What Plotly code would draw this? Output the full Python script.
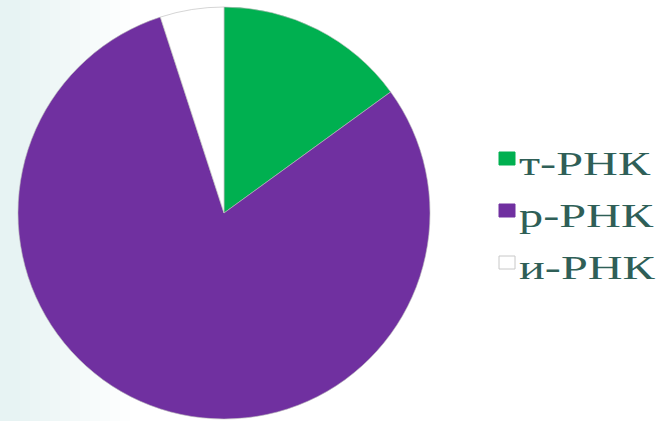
import plotly.graph_objects as go

labels = ["т-РНК", "р-РНК", "и-РНК"]
values = [15, 80, 5]
colors = ["#00b050", "#7030a0", "#ffffff"]

W, H = 666, 421

fig = go.Figure()
fig.add_trace(go.Pie(
    labels=labels,
    values=values,
    sort=False,
    direction="clockwise",
    rotation=0,
    textinfo="none",
    hoverinfo="label+percent",
    marker=dict(colors=colors, line=dict(color="#b8b8b8", width=0.6)),
    domain=dict(x=[18 / W, 430 / W], y=[(H - 419) / H, (H - 7) / H]),
    showlegend=False,
))

shapes = []
# soft bluish gradient on the left edge of the background
for i in range(12):
    x1 = (130 - i * 10) / W
    shapes.append(dict(type="rect", xref="paper", yref="paper", x0=0, x1=x1, y0=0, y1=1,
                       fillcolor="#dce8ec", opacity=0.045, line=dict(width=0), layer="below"))

annotations = []
# manual legend
row_mid = [163.5, 215.5, 267.5]
for lab, col, ym in zip(labels, colors, row_mid):
    shapes.append(dict(type="rect", xref="paper", yref="paper",
                       x0=499 / W, x1=515 / W,
                       y0=(H - (ym + 1.5)) / H, y1=(H - (ym - 11.5)) / H,
                       fillcolor=col,
                       line=dict(color="#c8c8c8" if col == "#ffffff" else col, width=1)))
    annotations.append(dict(xref="paper", yref="paper", x=517 / W, y=(H - ym) / H,
                            xanchor="left", yanchor="middle", showarrow=False,
                            text=lab,
                            font=dict(family="Liberation Serif, Times New Roman, DejaVu Serif, serif",
                                      size=34, color="#2f5f57")))

fig.update_layout(
    width=W, height=H,
    margin=dict(l=0, r=0, t=0, b=0),
    paper_bgcolor="#ffffff",
    plot_bgcolor="#ffffff",
    shapes=shapes,
    annotations=annotations,
)

post = """
document.body.style.margin='0';
document.body.style.overflow='hidden';
document.querySelectorAll('.annotation-text').forEach(function(t){
  var b = t.getBBox();
  var x0 = b.x;
  t.setAttribute('transform', 'translate(' + x0 + ',0) scale(1.42,1) translate(' + (-x0) + ',0)');
});
"""

fig.write_html("out.html", config={"displayModeBar": False}, post_script=post)
